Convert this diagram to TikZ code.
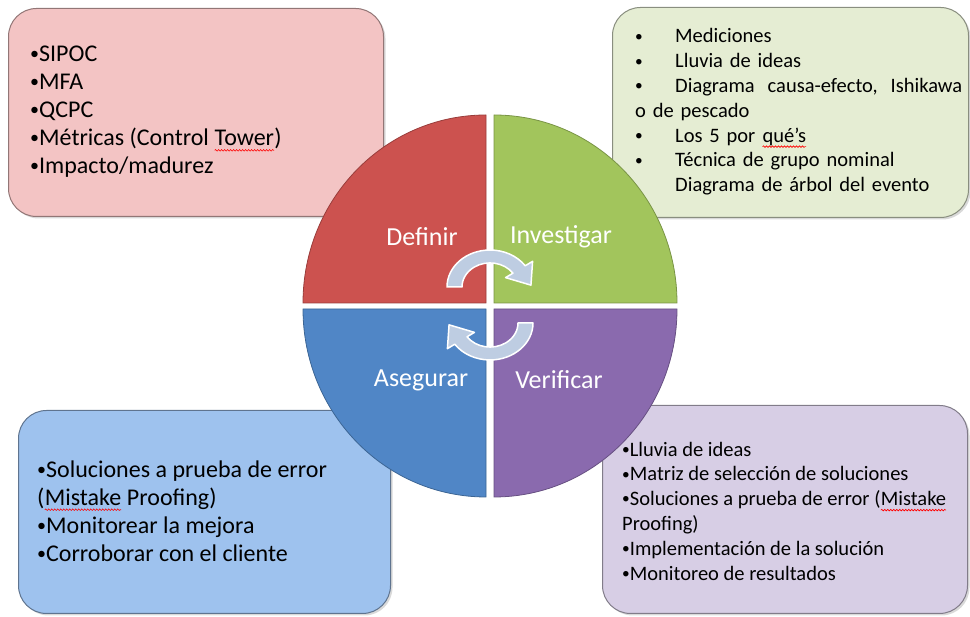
\documentclass[tikz,border=0pt]{standalone}
\usepackage{fontspec}
\setmainfont{Carlito}
\usepackage{xcolor}
\definecolor{defred}{RGB}{204, 82, 79}
\definecolor{invgreen}{RGB}{162, 197, 92}
\definecolor{asegblue}{RGB}{80, 134, 198}
\definecolor{verpurple}{RGB}{138, 106, 174}
\definecolor{defpink}{RGB}{243, 196, 196}
\definecolor{invpale}{RGB}{229, 237, 211}
\definecolor{asegsky}{RGB}{158, 194, 238}
\definecolor{verlilac}{RGB}{215, 206, 229}
\definecolor{cyclefill}{RGB}{190, 205, 226}
\usetikzlibrary{positioning, shadows, calc, decorations.pathmorphing}
\newcommand{\spellmark}[1]{\tikz[baseline=(w.base)]{\node[inner sep=0pt, outer sep=0pt] (w) {#1};
    \draw[red, line width=0.6pt, decorate, decoration={snake, amplitude=0.8pt, segment length=3pt}]
      ([yshift=-4.5pt]w.base west) -- ([yshift=-4.5pt]w.base east);}}
\newcommand{\pbul}{\raisebox{0.08em}{\scalebox{0.75}{•}}}
\newcommand{\gbul}{\makebox[40pt][l]{\pbul}}

\begin{document}
\begin{tikzpicture}[x=1pt, y=1pt,
    infobox/.style={draw=#1!60!black, fill=#1, line width=1pt, rounded corners=28pt,
        drop shadow={opacity=0.3, shadow xshift=2pt, shadow yshift=-2pt}},
    infotext/.style={anchor=west, align=left, inner sep=0pt},
    bigtext/.style={font=\fontsize{24}{28}\selectfont},
    smalltext/.style={font=\fontsize{20.5}{24.8}\selectfont},
    quarter/.style={fill=#1, draw=#1!75!black, line width=0.8pt},
    phase/.style={text=white, font=\fontsize{26}{30}\selectfont},
    cyclearrow/.style={fill=cyclefill, draw=white, line width=1.5pt, line join=round}]

\useasboundingbox (0,0) rectangle (970,617);

% corner boxes
\node[infobox=defpink, minimum width=375, minimum height=208, anchor=north west] (defbox) at (8,609) {};
\node[infobox=invpale, minimum width=356, minimum height=210, anchor=north west] (invbox) at (612,610) {};
\node[infobox=asegsky, minimum width=372, minimum height=203, anchor=north west] (asegbox) at (18,207) {};
\node[infobox=verlilac, minimum width=365, minimum height=208, anchor=north west] (verbox) at (602,212) {};

\node[infotext, bigtext] (deftext) at (30,505) {
    \pbul SIPOC\\
    \pbul MFA\\
    \pbul QCPC\\
    \pbul Métricas (Control \spellmark{Tower})\\
    \pbul Impacto/madurez};
\node[infotext, smalltext, text width=327] (invtext) at (635,505) {
    \gbul Mediciones\\
    \gbul Lluvia de ideas\\
    \gbul Diagrama\hfill causa-efecto,\hfill Ishikawa\\
    o de pescado\\
    \gbul Los 5 por \spellmark{qué’s}\\
    \gbul Técnica de grupo nominal\\
    \hspace*{40pt}Diagrama de árbol del evento};
\node[infotext, bigtext] (asegtext) at (37,106) {
    \pbul Soluciones a prueba de error\\
    (\spellmark{Mistake} Proofing)\\
    \pbul Monitorear la mejora\\
    \pbul Corroborar con el cliente};
\node[infotext, smalltext] (vertext) at (622,106) {
    \pbul Lluvia de ideas\\
    \pbul Matriz de selección de soluciones\\
    \pbul Soluciones a prueba de error (\spellmark{Mistake}\\
    Proofing)\\
    \pbul Implementación de la solución\\
    \pbul Monitoreo de resultados};

% circle in four parts
\draw[quarter=defred] (486,314) -- ++(-183,0) arc[start angle=180, end angle=90, x radius=183, y radius=188] -- cycle;
\draw[quarter=invgreen] (494,314) -- ++(0,188) arc[start angle=90, end angle=0, x radius=183, y radius=188] -- cycle;
\draw[quarter=verpurple] (494,308) -- ++(183,0) arc[start angle=0, end angle=-90, x radius=183, y radius=188] -- cycle;
\draw[quarter=asegblue] (486,308) -- ++(0,-188) arc[start angle=-90, end angle=-180, x radius=183, y radius=188] -- cycle;

\node[phase] (definir) at (422,380) {Definir};
\node[phase] (investigar) at (561,380) {Investigar};
\node[phase] (asegurar) at (421,237) {Asegurar};
\node[phase] (verificar) at (559,237) {Verificar};

% cycle arrows
\foreach \turn in {0,180} {
  \begin{scope}[shift={(490,312)}, rotate=\turn]
    \begin{scope}[shift={(0,18)}, yscale=0.86]
      \draw[cyclearrow] (180:28) -- (180:43) arc[start angle=180, end angle=35, radius=43]
          -- (35:52) -- (3:41) -- (35:19) -- (35:28) arc[start angle=35, end angle=180, radius=28] -- cycle;
    \end{scope}
  \end{scope}
}
\end{tikzpicture}
\end{document}
